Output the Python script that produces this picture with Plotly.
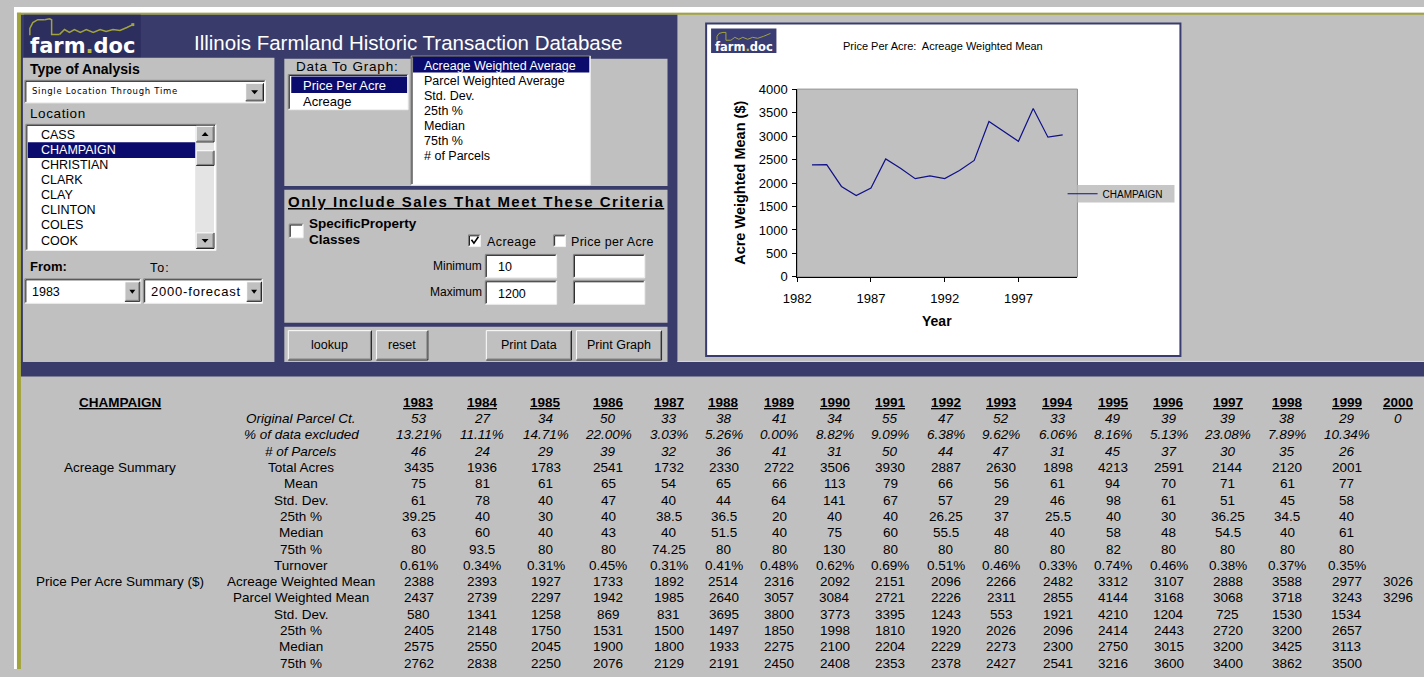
import plotly.graph_objects as go

W, H = 1424, 677
FONT = "Liberation Sans, Arial, sans-serif"

# ---------------- data ----------------
years = [1983, 1984, 1985, 1986, 1987, 1988, 1989, 1990, 1991, 1992,
         1993, 1994, 1995, 1996, 1997, 1998, 1999, 2000]
orig_parcel_ct = [53, 27, 34, 50, 33, 38, 41, 34, 55, 47, 52, 33, 49, 39, 39, 38, 29, 0]
pct_excluded = [13.21, 11.11, 14.71, 22.00, 3.03, 5.26, 0.00, 8.82, 9.09, 6.38,
                9.62, 6.06, 8.16, 5.13, 23.08, 7.89, 10.34, None]
n_parcels = [46, 24, 29, 39, 32, 36, 41, 31, 50, 44, 47, 31, 45, 37, 30, 35, 26, None]
total_acres = [3435, 1936, 1783, 2541, 1732, 2330, 2722, 3506, 3930, 2887,
               2630, 1898, 4213, 2591, 2144, 2120, 2001, None]
acre_mean = [75, 81, 61, 65, 54, 65, 66, 113, 79, 66, 56, 61, 94, 70, 71, 61, 77, None]
acre_std = [61, 78, 40, 47, 40, 44, 64, 141, 67, 57, 29, 46, 98, 61, 51, 45, 58, None]
acre_p25 = [39.25, 40, 30, 40, 38.5, 36.5, 20, 40, 40, 26.25, 37, 25.5, 40, 30, 36.25, 34.5, 40, None]
acre_median = [63, 60, 40, 43, 40, 51.5, 40, 75, 60, 55.5, 48, 40, 58, 48, 54.5, 40, 61, None]
acre_p75 = [80, 93.5, 80, 80, 74.25, 80, 80, 130, 80, 80, 80, 80, 82, 80, 80, 80, 80, None]
turnover = [0.61, 0.34, 0.31, 0.45, 0.31, 0.41, 0.48, 0.62, 0.69, 0.51,
            0.46, 0.33, 0.74, 0.46, 0.38, 0.37, 0.35, None]
acreage_weighted_mean = [2388, 2393, 1927, 1733, 1892, 2514, 2316, 2092, 2151, 2096,
                         2266, 2482, 3312, 3107, 2888, 3588, 2977, 3026]
parcel_weighted_mean = [2437, 2739, 2297, 1942, 1985, 2640, 3057, 3084, 2721, 2226,
                        2311, 2855, 4144, 3168, 3068, 3718, 3243, 3296]
price_std = [580, 1341, 1258, 869, 831, 3695, 3800, 3773, 3395, 1243,
             553, 1921, 4210, 1204, 725, 1530, 1534, None]
price_p25 = [2405, 2148, 1750, 1531, 1500, 1497, 1850, 1998, 1810, 1920,
             2026, 2096, 2414, 2443, 2720, 3200, 2657, None]
price_median = [2575, 2550, 2045, 1900, 1800, 1933, 2275, 2100, 2204, 2229,
                2273, 2300, 2750, 3015, 3200, 3425, 3113, None]
price_p75 = [2762, 2838, 2250, 2076, 2129, 2191, 2450, 2408, 2353, 2378,
             2427, 2541, 3216, 3600, 3400, 3862, 3500, None]

row_labels = ["Original Parcel Ct.", "% of data excluded", "# of Parcels", "Total Acres",
              "Mean", "Std. Dev.", "25th %", "Median", "75th %", "Turnover",
              "Acreage Weighted Mean", "Parcel Weighted Mean", "Std. Dev.", "25th %",
              "Median", "75th %"]
row_values = [orig_parcel_ct, pct_excluded, n_parcels, total_acres, acre_mean, acre_std,
              acre_p25, acre_median, acre_p75, turnover, acreage_weighted_mean,
              parcel_weighted_mean, price_std, price_p25, price_median, price_p75]
row_kinds = ["n", "pct", "n", "n", "n", "n", "n", "n", "n", "pct",
             "n", "n", "n", "n", "n", "n"]

locations = ["CASS", "CHAMPAIGN", "CHRISTIAN", "CLARK", "CLAY", "CLINTON", "COLES", "COOK"]
graph_data = ["Price Per Acre", "Acreage"]
graph_stats = ["Acreage Weighted Average", "Parcel Weighted Average", "Std. Dev.",
               "25th %", "Median", "75th %", "# of Parcels"]
selected_location = "CHAMPAIGN"

# ---------------- helpers ----------------
NAVY = "#393B6A"
GRAY = "#C0C0C0"
OLIVE = "#A2A43A"
SEL = "#0B0B6E"
DARK = "#808080"

shapes, anns = [], []


def X(p):
    return p / W


def Y(p):
    return 1 - p / H


def rect(x0, y0, x1, y1, fill, line=None, lw=0):
    shapes.append(dict(type="rect", xref="paper", yref="paper", layer="below",
                       x0=X(x0), x1=X(x1), y0=Y(y1), y1=Y(y0), fillcolor=fill,
                       line=dict(color=line if line else "rgba(0,0,0,0)", width=lw)))


def seg(x0, y0, x1, y1, color, lw=1):
    shapes.append(dict(type="line", xref="paper", yref="paper", layer="below",
                       x0=X(x0), x1=X(x1), y0=Y(y0), y1=Y(y1),
                       line=dict(color=color, width=lw)))


def path(pts, color=None, fill=None, lw=1, closed=False):
    d = "M " + " L ".join(f"{X(a):.6f},{Y(b):.6f}" for a, b in pts) + (" Z" if closed else "")
    shapes.append(dict(type="path", xref="paper", yref="paper", layer="below", path=d,
                       line=dict(color=color or "rgba(0,0,0,0)", width=lw),
                       fillcolor=fill or "rgba(0,0,0,0)"))


def txt(x, y, s, size=12, color="black", anchor="left", family=FONT, angle=0,
        bold=False, italic=False, spacing=None):
    if spacing:
        s = f"<span style='letter-spacing:{spacing}px'>{s}</span>"
    anns.append(dict(xref="paper", yref="paper", x=X(x), y=Y(y), text=s, showarrow=False,
                     xanchor=anchor, yanchor="middle", textangle=angle, borderpad=0,
                     font=dict(family=family, size=size, color=color,
                               weight="bold" if bold else "normal",
                               style="italic" if italic else "normal")))


def sunken(x0, y0, x1, y1, fill="white"):
    rect(x0, y0, x1, y1, fill)
    seg(x0, y0, x1, y0, DARK)
    seg(x0, y0, x0, y1, DARK)
    seg(x0 + 1, y0 + 1, x1 - 1, y0 + 1, "#202020")
    seg(x0 + 1, y0 + 1, x0 + 1, y1 - 1, "#202020")
    seg(x0, y1, x1, y1, "#F0F0F0")
    seg(x1, y0, x1, y1, "#F0F0F0")


def raised(x0, y0, x1, y1):
    rect(x0, y0, x1, y1, GRAY)
    seg(x0, y0, x1, y0, "white")
    seg(x0, y0, x0, y1, "white")
    seg(x0, y1, x1, y1, "#202020")
    seg(x1, y0, x1, y1, "#202020")
    seg(x0 + 1, y1 - 1, x1 - 1, y1 - 1, DARK)
    seg(x1 - 1, y0 + 1, x1 - 1, y1 - 1, DARK)


def tri(cx, cy, down=True, s=3.5):
    if down:
        path([(cx - s, cy - 1.8), (cx + s, cy - 1.8), (cx, cy + 2.2)], fill="black", closed=True)
    else:
        path([(cx - s, cy + 1.8), (cx + s, cy + 1.8), (cx, cy - 2.2)], fill="black", closed=True)


def fmt(v, kind):
    if v is None:
        return ""
    if kind == "pct":
        return f"{v:.2f}%"
    if float(v).is_integer():
        return str(int(v))
    return f"{v:g}"


# ---------------- frame ----------------
rect(0, 0, W, 6, "white")
rect(0, 0, 3, H, "white")
rect(3, 6, W, 8, OLIVE)
rect(3, 6, 7, H, OLIVE)

rect(7, 8, 670, 364, NAVY)
rect(7, 363, W, 378, NAVY)
seg(670, 362.5, W, 362.5, "#D8D8D8")

# logo
rect(10, 8, 128, 52, "#2C2E5E")
path([(16, 29), (16, 22), (19, 16), (24, 13), (31, 13)], color=OLIVE, lw=1.5)
path([(31, 13), (36, 12), (38, 13), (38, 28), (46, 28)], color=OLIVE, lw=1.5)
path([(46, 28), (51, 23), (56, 26), (61, 23), (67, 26), (73, 23), (80, 26), (87, 23),
      (93, 25), (100, 23), (107, 24), (114, 21), (120, 18)], color=OLIVE, lw=1.5)
rect(118.5, 16.5, 121.5, 19.5, OLIVE)
txt(69, 40, "farm<span style='color:#B8BA44'>.</span>doc", size=21, color="white",
    anchor="center", family="DejaVu Sans, sans-serif", bold=True)

txt(398, 36, "Illinois Farmland Historic Transaction Database", size=20.5, color="white",
    anchor="center")

# ---------------- left panel ----------------
rect(9, 52, 263, 363, GRAY)
txt(15, 63, "Type of Analysis", size=14, bold=True)
sunken(11, 75, 254, 98)
txt(17, 86, "Single Location Through Time", size=8.5, family="DejaVu Sans, sans-serif",
    spacing=0.7)
raised(234, 78, 252, 96)
tri(243, 87)

txt(15, 109, "Location", size=13.5, spacing=0.6)
sunken(12, 120, 204, 249)
rect(183, 122, 202, 247, "#E4E4E4")
raised(184, 122, 202, 138)
tri(193, 130, down=False)
raised(184, 147, 202, 162)
raised(184, 231, 202, 247)
tri(193, 239)
for i, name in enumerate(locations):
    yy = 131 + i * 15.4
    if name == selected_location:
        rect(14, yy - 8, 183, yy + 8, SEL)
        txt(26, yy, name, size=12.5, color="white")
    else:
        txt(26, yy, name, size=12.5)

txt(15, 265, "From:", size=13, bold=True)
txt(136, 267, "To:", size=12.5, spacing=1)
sunken(11, 278, 128, 303)
txt(17, 291, "1983", size=12.5)
raised(112, 281, 127, 301)
tri(119.5, 291, s=3)
sunken(131, 278, 251, 303)
txt(137, 291, "2000-forecast", size=13, spacing=0.8)
raised(235, 281, 250, 301)
tri(242.5, 291, s=3)

# ---------------- middle panels ----------------
rect(273, 53, 660, 183, GRAY)
txt(284, 61, "Data To Graph:", size=13.5, spacing=0.8)
sunken(277, 69, 398, 105)
rect(280, 71, 397, 88, SEL)
txt(291, 80, graph_data[0], size=13, color="white")
txt(291, 97, graph_data[1], size=13)
sunken(401, 50, 582, 182)
rect(403, 51, 581, 67, SEL)
for i, name in enumerate(graph_stats):
    yy = 60 + i * 15.35
    txt(413, yy, name, size=12.5, color="white" if i == 0 else "black")

rect(273, 187, 660, 323, GRAY)
txt(276, 199, "<u>Only Include Sales That Meet These Criteria</u>", size=15, bold=True,
    spacing=1.5)
sunken(278, 222, 292, 236)
txt(297, 221, "SpecificProperty", size=13.5, bold=True)
txt(297, 238, "Classes", size=13.5, bold=True)
sunken(459, 233, 471, 245)
path([(462, 238), (464.5, 241.5), (469, 235)], color="black", lw=1.6)
txt(477, 240, "Acreage", size=12.5, spacing=0.4)
sunken(545, 233, 557, 245)
txt(562, 240, "Price per Acre", size=12.5, spacing=0.3)
txt(474, 265, "Minimum", size=12, anchor="right")
sunken(476, 253, 548, 277)
txt(488, 266, "10", size=12.5)
sunken(565, 253, 637, 277)
txt(474, 291, "Maximum", size=12, anchor="right")
sunken(476, 280, 548, 304)
txt(488, 293, "1200", size=12.5)
sunken(565, 280, 637, 304)

rect(273, 327, 660, 363, GRAY)
for (x0, x1, label) in [(277, 361, "lookup"), (366, 418, "reset"),
                        (477, 563, "Print Data"), (568, 654, "Print Graph")]:
    raised(x0, 331, x1, 361)
    txt((x0 + x1) / 2, 346, label, size=12.5, anchor="center")

# ---------------- chart box ----------------
rect(699, 17, 1178, 357, "white", line="#3A3C70", lw=2)
rect(704, 22, 770, 47, "#3A3C74")
path([(710, 34), (710, 30), (712, 27), (716, 26), (719, 26), (719, 34), (724, 34),
      (728, 31), (732, 33), (736, 31), (741, 33), (746, 31), (751, 32), (757, 30), (764, 27)],
     color=OLIVE, lw=1)
txt(737, 41, "farm<span style='color:#B8BA44'>.</span>doc", size=11.5, color="white",
    anchor="center", family="DejaVu Sans, sans-serif", bold=True)
txt(938, 40, "Price Per Acre:  Acreage Weighted Mean", size=11, anchor="center")

rect(791, 84, 1074, 276, GRAY, line="#8C8C8C", lw=1)
rect(1074, 182, 1172, 200, "#C6C6C6")

txt(733, 180, "Acre Weighted Mean ($)", size=14.5, bold=True, anchor="center", angle=-90)
txt(932, 321, "Year", size=14, bold=True, anchor="center")

# ---------------- data table ----------------
col_x = [409, 473, 537, 600, 661, 717, 773, 829, 885, 941, 997, 1054, 1110, 1166,
         1226, 1286, 1346, 1398]
TS = 13.5
header_y = 404.3
txt(107, header_y, "<u>CHAMPAIGN</u>", size=TS, bold=True, anchor="center")
for cx, yr in zip(col_x, years):
    txt(cx, header_y, f"<u>{yr}</u>", size=TS, bold=True, anchor="center")
for r, (label, vals, kind) in enumerate(zip(row_labels, row_values, row_kinds)):
    ry = 421 + r * 16.67
    ital = r < 3
    txt(290, ry, label, size=TS, anchor="center", italic=ital)
    for cx, v in zip(col_x, vals):
        s = fmt(v, kind)
        if s:
            txt(cx, ry, s, size=TS, anchor="center", italic=ital)
txt(107, 421 + 3 * 16.67, "Acreage Summary", size=TS, anchor="center")
txt(107, 421 + 10 * 16.67, "Price Per Acre Summary ($)", size=TS, anchor="center")

# ---------------- figure ----------------
fig = go.Figure()
fig.add_trace(go.Scatter(x=years, y=acreage_weighted_mean, mode="lines",
                         name=selected_location,
                         line=dict(color="#10108A", width=1.2)))

fig.update_layout(
    width=W, height=H, autosize=False,
    margin=dict(l=0, r=0, t=0, b=0),
    paper_bgcolor=GRAY, plot_bgcolor="rgba(0,0,0,0)",
    shapes=shapes, annotations=anns,
    font=dict(family=FONT, color="black"),
    showlegend=True,
    legend=dict(x=X(1059), xanchor="left", y=Y(191), yanchor="middle",
                bgcolor="rgba(0,0,0,0)", font=dict(size=10, family=FONT),
                itemwidth=30),
    xaxis=dict(domain=[X(791), X(1074)], range=[1982, 2001], tick0=1982, dtick=5,
               ticks="outside", ticklen=4, tickcolor="black", showline=True,
               linecolor="black", linewidth=1, showgrid=False, zeroline=False,
               tickfont=dict(size=13, family=FONT), ticklabelstandoff=6),
    yaxis=dict(domain=[Y(276), Y(84)], range=[0, 4000], dtick=500,
               ticks="outside", ticklen=4, tickcolor="black", showline=True,
               linecolor="black", linewidth=1, showgrid=False, zeroline=False,
               tickfont=dict(size=13, family=FONT), ticklabelstandoff=2),
)

fig.write_html("out.html", config={"displayModeBar": False},
               post_script="document.body.style.margin='0px';"
                           "document.body.style.overflow='hidden';"
                           "document.body.style.background='#C0C0C0';")
